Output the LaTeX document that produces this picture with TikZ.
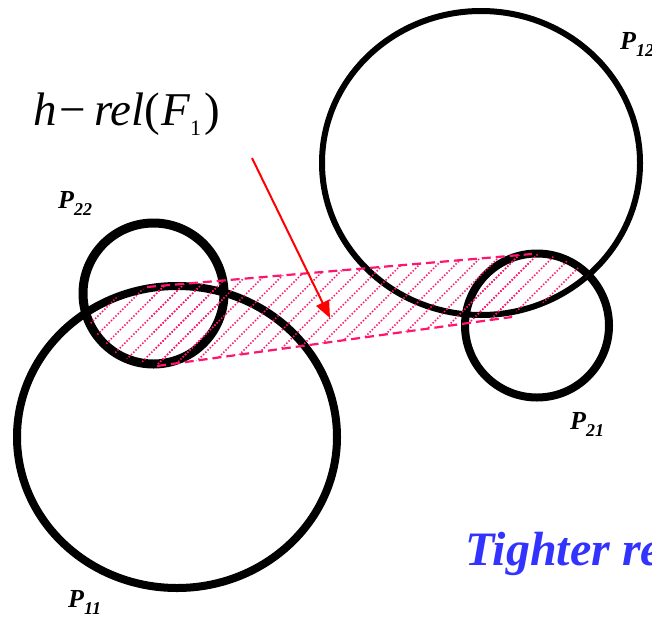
\documentclass[tikz,border=0pt]{standalone}
\usepackage{fontspec}
\setmainfont{Liberation Serif}
\usetikzlibrary{arrows.meta}
\definecolor{hpink}{RGB}{255,20,110}
\definecolor{tblue}{RGB}{51,51,255}
\newcommand\plab[2]{{\bfseries\itshape #1\raisebox{-7pt}{\fontsize{18}{18}\selectfont #2}}}
\begin{document}
\begin{tikzpicture}[x=1pt,y=-1pt,
  ring/.style={draw=black},
  hatchline/.style={draw=hpink, line width=1.6pt, dash pattern=on 1.4pt off 1.8pt},
  bound/.style={draw=hpink, line width=2.2pt, dash pattern=on 9pt off 5pt},
  plabel/.style={anchor=base west, inner sep=0pt, font=\fontsize{26}{26}\selectfont}]
\useasboundingbox (0,0) rectangle (652,616);
\def\hatch{\foreach \c in {-180,-162,...,640} \draw[hatchline] (\c,450) -- ++(250,-250);}
% circles
\draw[ring, line width=8pt] (177,437) ellipse [x radius=160pt, y radius=151pt];
\draw[ring, line width=6pt] (481,163) ellipse [x radius=159pt, y radius=152pt];
\draw[ring, line width=9pt] (153.5,293.5) circle [radius=70.5pt];
\draw[ring, line width=8pt] (537,325.5) circle [radius=72pt];
% hatching: left lens
\begin{scope}
\clip (153.5,293.5) circle [radius=70.5pt];
\clip (177,437) ellipse [x radius=160pt, y radius=151pt];
\hatch
\end{scope}
% right lens
\begin{scope}
\clip (537,325.5) circle [radius=72pt];
\clip (481,163) ellipse [x radius=159pt, y radius=152pt];
\hatch
\end{scope}
% band
\coordinate (tl) at (147,287);
\coordinate (tr) at (532,254);
\coordinate (br) at (512,317);
\coordinate (bl) at (157,366);
\begin{scope}
\clip (tl) -- (tr) -- (br) -- (bl) -- cycle;
\hatch
\end{scope}
\draw[bound] (tl) -- (tr);
\draw[bound] (bl) -- (br);
% arrow
\coordinate (arrS) at (252,158);
\coordinate (arrE) at (330,318);
\draw[red, line width=2pt, -{Triangle[length=17pt,width=14pt]}] (arrS) -- (arrE);
% labels
\node[anchor=base west, inner sep=0pt, font=\fontsize{47}{47}\selectfont] (hrel) at (33,125)
  {\itshape h\upshape\hspace{3pt}−\hspace{8pt}\itshape rel\upshape(\hspace{1pt}\itshape F\upshape\raisebox{-10pt}{\fontsize{22}{22}\selectfont 1}\hspace{3pt})};
\node[plabel] (p22) at (58,208) {\plab{P}{22}};
\node[plabel] (p12) at (620,49) {\plab{P}{12}};
\node[plabel] (p11) at (68,607) {\plab{P}{11}};
\node[plabel] (p21) at (570,429) {\plab{P}{21}};
\node[anchor=base west, inner sep=0pt, text=tblue, font=\fontsize{48}{48}\selectfont\bfseries\itshape] (tight) at (465,565) {Tighter re};
\end{tikzpicture}
\end{document}
